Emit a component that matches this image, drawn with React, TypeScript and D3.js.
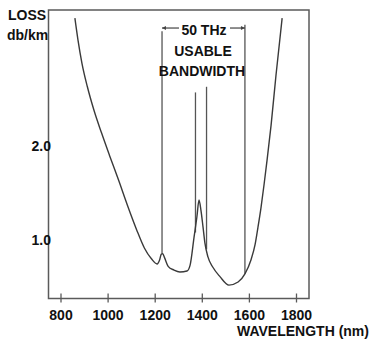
import React from "react";
import * as d3 from "d3";

const wavelengths = [859, 872, 889, 912, 940, 972, 1006, 1044, 1082, 1121, 1154, 1184, 1208, 1219, 1226, 1232, 1240, 1255, 1280, 1305, 1335, 1348, 1365, 1377, 1386, 1394, 1403, 1411, 1424, 1445, 1475, 1513, 1552, 1581, 1607, 1624, 1636, 1649, 1662, 1675, 1692, 1713, 1739];
const losses = [3.36, 3.13, 2.88, 2.63, 2.38, 2.14, 1.9, 1.64, 1.37, 1.11, 0.915, 0.8, 0.745, 0.79, 0.85, 0.855, 0.81, 0.72, 0.68, 0.66, 0.67, 0.73, 1.03, 1.245, 1.426, 1.32, 1.14, 0.97, 0.82, 0.71, 0.61, 0.52, 0.553, 0.64, 0.79, 0.95, 1.13, 1.34, 1.585, 1.85, 2.22, 2.755, 3.36];

const xTicks = [800, 1000, 1200, 1400, 1600, 1800];
const yTicks = [1.0, 2.0];

// vertical guide lines: wavelength, top loss, bottom loss
const guideNm = [1229, 1581, 1371, 1418];
const guideTop = [3.22, 3.29, 2.57, 2.63];
const guideBottom = [0.856, 0.64, 1.08, 0.9];

const bandStart = 1229;
const bandEnd = 1581;
const bandLevel = 3.255;

const W = 372;
const H = 340;
const left = 48.5, right = 309, top = 10, bottom = 298.5;

export default function App() {
  const x = d3.scaleLinear().domain([800, 1800]).range([61, 296.5]);
  const y = d3.scaleLinear().domain([1, 2]).range([240, 146]);

  const pts: [number, number][] = wavelengths.map((w, i) => [w, losses[i]]);
  const line = d3
    .line<[number, number]>()
    .x((d) => x(d[0]))
    .y((d) => y(d[1]))
    .curve(d3.curveMonotoneX);

  const font = "'Liberation Sans', Arial, sans-serif";
  const frame = "#5a5a5a";
  const midX = x((bandStart + bandEnd) / 2) + 0.5;
  const by = y(bandLevel);
  const bx0 = x(bandStart);
  const bx1 = x(bandEnd);

  return (
    <svg
      width={W}
      height={H}
      style={{ position: "fixed", left: 0, top: 0, background: "#fff" }}
      fontFamily={font}
      fontWeight="bold"
    >
      <rect x={0} y={0} width={W} height={H} fill="#fff" />
      {/* frame */}
      <rect x={left} y={top} width={right - left} height={bottom - top} fill="none" stroke={frame} strokeWidth={1.5} />
      {/* x ticks */}
      {xTicks.map((t) => (
        <g key={t}>
          <line x1={x(t)} x2={x(t)} y1={bottom - 5} y2={bottom + 4} stroke={frame} strokeWidth={1.3} />
          <text x={x(t)} y={320} textAnchor="middle" fontSize={14} fill="#111">
            {t}
          </text>
        </g>
      ))}
      {/* y labels */}
      {yTicks.map((t) => (
        <text key={t} x={51} y={y(t) + 5} textAnchor="end" fontSize={14} fill="#111">
          {t.toFixed(1)}
        </text>
      ))}
      <text x={8} y={20} fontSize={14} fill="#111">LOSS</text>
      <text x={7} y={40} fontSize={14} fill="#111">db/km</text>
      <text x={237} y={336} fontSize={14} fill="#111">WAVELENGTH (nm)</text>

      {/* guide lines */}
      {guideNm.map((g, i) => (
        <line
          key={i}
          x1={x(g)}
          x2={x(g)}
          y1={y(guideTop[i])}
          y2={y(guideBottom[i])}
          stroke="#555"
          strokeWidth={1.3}
        />
      ))}

      {/* bandwidth bracket */}
      <line x1={bx0} x2={midX - 25} y1={by} y2={by} stroke="#444" strokeWidth={1.2} />
      <line x1={midX + 26} x2={bx1} y1={by} y2={by} stroke="#444" strokeWidth={1.2} />
      <path d={`M${bx0},${by} l4,-2 l0,4 z`} fill="#444" />
      <path d={`M${bx1},${by} l-4,-2 l0,4 z`} fill="#444" />
      <text x={midX} y={35} textAnchor="middle" fontSize={14} fill="#111">50 THz</text>
      <text x={midX - 1} y={56} textAnchor="middle" fontSize={14} fill="#111">USABLE</text>
      <text x={midX - 2} y={76} textAnchor="middle" fontSize={14} fill="#111">BANDWIDTH</text>

      {/* loss curve */}
      <path d={line(pts) || ""} fill="none" stroke="#3a3a3a" strokeWidth={1.4} strokeLinejoin="round" />
    </svg>
  );
}
